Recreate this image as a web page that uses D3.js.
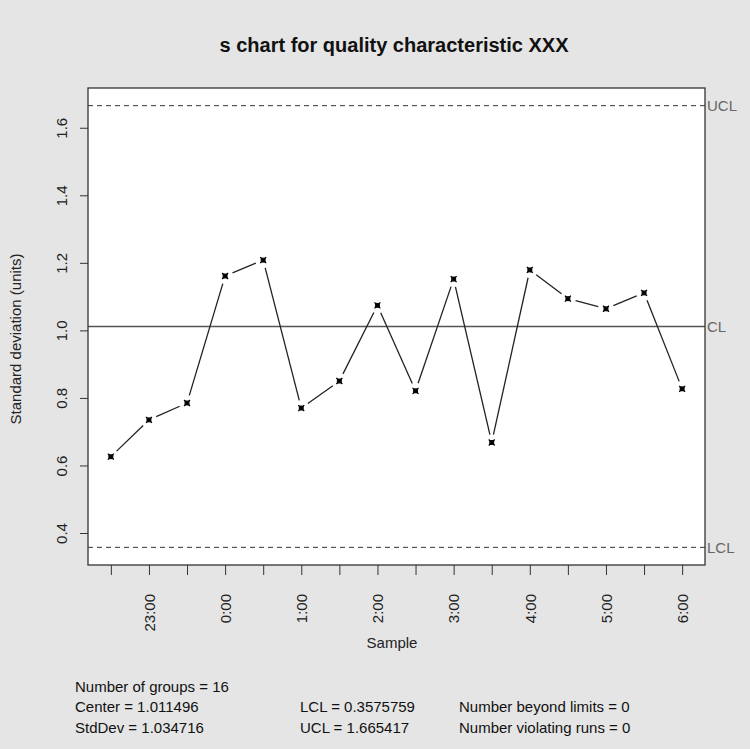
<!DOCTYPE html>
<html><head><meta charset="utf-8">
<script src="https://cdn.jsdelivr.net/npm/d3@7"></script>
<style>
html,body{margin:0;padding:0;background:#e5e5e5;}
text{font-family:"Liberation Sans",Arial,Helvetica,sans-serif;}
</style></head>
<body>
<svg id="c" width="750" height="749"></svg>
<script>
const samples = ["22:30","23:00","23:30","0:00","0:30","1:00","1:30","2:00","2:30","3:00","3:30","4:00","4:30","5:00","5:30","6:00"];
const tickLabels = ["","23:00","","0:00","","1:00","","2:00","","3:00","","4:00","","5:00","","6:00"];
const sValues = [0.626,0.735,0.785,1.161,1.208,0.770,0.850,1.074,0.821,1.152,0.668,1.179,1.094,1.064,1.111,0.827];
const center = 1.011496, lcl = 0.3575759, ucl = 1.665417;
const yTicks = [0.4,0.6,0.8,1.0,1.2,1.4,1.6];
const statsCol1 = ["Number of groups = 16","Center = 1.011496","StdDev = 1.034716"];
const statsCol2 = ["","LCL = 0.3575759","UCL = 1.665417"];
const statsCol3 = ["","Number beyond limits = 0","Number violating runs = 0"];

const svg = d3.select("#c");
const L=88, R=705, T=88, B=565;
const FS = 15;
svg.append("rect").attr("width",750).attr("height",749).attr("fill","#e5e5e5");
svg.append("rect").attr("x",L).attr("y",T).attr("width",R-L).attr("height",B-T).attr("fill","#fff");

const ext = (ucl-lcl)*0.04;
const y = d3.scaleLinear().domain([lcl-ext, ucl+ext]).range([B,T]);
const x = d3.scaleLinear().domain([1-0.6, 16+0.6]).range([L,R]);
const idx = samples.map((d,i)=>i+1);

// limit lines
svg.append("line").attr("x1",L).attr("x2",R).attr("y1",y(ucl)).attr("y2",y(ucl)).attr("stroke","#333").attr("stroke-dasharray","5,4").attr("stroke-width",1);
svg.append("line").attr("x1",L).attr("x2",R).attr("y1",y(lcl)).attr("y2",y(lcl)).attr("stroke","#333").attr("stroke-dasharray","5,4").attr("stroke-width",1);
svg.append("line").attr("x1",L).attr("x2",R).attr("y1",y(center)).attr("y2",y(center)).attr("stroke","#555").attr("stroke-width",1.5);

// type "b" segments with gaps
const gap = 8;
const g = svg.append("g");
for(let i=0;i<sValues.length-1;i++){
  const x1=x(idx[i]), y1=y(sValues[i]), x2=x(idx[i+1]), y2=y(sValues[i+1]);
  const dx=x2-x1, dy=y2-y1, len=Math.hypot(dx,dy);
  if(len>2*gap){
    const ux=dx/len, uy=dy/len;
    g.append("line").attr("x1",x1+ux*gap).attr("y1",y1+uy*gap).attr("x2",x2-ux*gap).attr("y2",y2-uy*gap)
      .attr("stroke","#222").attr("stroke-width",1.3);
  }
}
// points
sValues.forEach((v,i)=>{
  const cx=x(idx[i]), cy=y(v);
  g.append("rect").attr("x",cx-2.5).attr("y",cy-2.5).attr("width",5).attr("height",5).attr("fill","#111");
  g.append("path").attr("d",`M${cx-3},${cy-3}L${cx+3},${cy+3}M${cx-3},${cy+3}L${cx+3},${cy-3}`).attr("stroke","#000").attr("stroke-width",1.2);
});

// box
svg.append("rect").attr("x",L).attr("y",T).attr("width",R-L).attr("height",B-T).attr("fill","none").attr("stroke","#333").attr("stroke-width",1.3);

// y axis
const ya = svg.append("g").attr("transform",`translate(${L},0)`)
  .call(d3.axisLeft(y).tickValues(yTicks).tickFormat(d3.format(".1f")).tickSize(8).tickSizeOuter(0));
ya.select(".domain").remove();
ya.selectAll(".tick line").attr("stroke","#333");
ya.selectAll(".tick text").attr("x",0).attr("dy",0).attr("text-anchor","middle")
  .attr("transform","translate(-26,0) rotate(-90)").attr("dy","0.35em")
  .attr("font-size",FS).attr("fill","#222");

// x axis
const xa = svg.append("g").attr("transform",`translate(0,${B})`)
  .call(d3.axisBottom(x).tickValues(idx).tickFormat((d,i)=>tickLabels[i]).tickSize(10).tickSizeOuter(0));
xa.select(".domain").remove();
xa.selectAll(".tick line").attr("stroke","#333");
xa.selectAll(".tick text").attr("y",0).attr("dy","0.35em").attr("text-anchor","end")
  .attr("transform","translate(0,29) rotate(-90)").attr("font-size",FS).attr("fill","#222");

// limit labels
[["UCL",ucl],["CL",center],["LCL",lcl]].forEach(([t,v])=>{
  svg.append("text").attr("x",R+2).attr("y",y(v)).attr("dy","0.35em").attr("font-size",FS).attr("fill","#666").text(t);
});

// titles
svg.append("text").attr("x",394).attr("y",52).attr("text-anchor","middle").attr("font-size",20).attr("font-weight","bold").attr("fill","#111").text("s chart for quality characteristic XXX");
svg.append("text").attr("x",392).attr("y",648).attr("text-anchor","middle").attr("font-size",FS).attr("fill","#222").text("Sample");
svg.append("text").attr("transform",`translate(21,339) rotate(-90)`).attr("text-anchor","middle").attr("font-size",FS).attr("fill","#222").text("Standard deviation (units)");

// stats
const rows=[692,712,733];
[[statsCol1,75],[statsCol2,300],[statsCol3,459]].forEach(([col,xx])=>{
  col.forEach((t,i)=>{ if(t) svg.append("text").attr("x",xx).attr("y",rows[i]).attr("font-size",FS).attr("fill","#111").text(t); });
});
</script>
</body></html>
